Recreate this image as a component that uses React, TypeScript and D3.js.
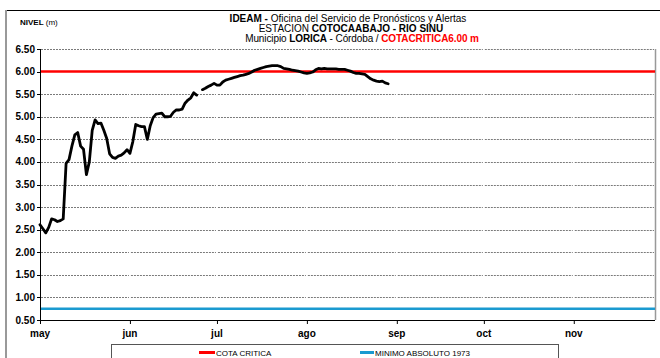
import React, { useEffect, useRef } from "react";
import * as d3 from "d3";

// ---- DATA ----
const startDate = "2011-05-01"; // first observation (daily series)
const nivel: (number | null)[] = [
  2.61, 2.52, 2.43, 2.55, 2.74, 2.72, 2.68, 2.70, 2.74, 3.97,
  4.05, 4.35, 4.60, 4.65, 4.35, 4.28, 3.72, 4.00, 4.70, 4.93,
  4.85, 4.86, 4.70, 4.52, 4.18, 4.10, 4.08, 4.13, 4.15, 4.20,
  4.27, 4.19, 4.45, 4.83, 4.80, 4.78, 4.78, 4.50, 4.80, 4.98,
  5.06, 5.07, 5.08, 5.00, 5.00, 5.01, 5.10, 5.15, 5.15, 5.17,
  5.30, 5.37, 5.42, 5.53, 5.48, null, 5.60, 5.63, 5.67, 5.70,
  5.74, 5.70, 5.70, 5.77, 5.81, 5.83, 5.85, 5.87, 5.89, 5.91,
  5.92, 5.94, 5.96, 5.99, 6.03, 6.05, 6.07, 6.09, 6.11, 6.12,
  6.13, 6.13, 6.13, 6.11, 6.07, 6.06, 6.05, 6.03, 6.02, 6.01,
  5.99, 5.97, 5.96, 5.97, 5.99, 6.04, 6.07, 6.06, 6.07, 6.06,
  6.06, 6.06, 6.06, 6.05, 6.05, 6.05, 6.03, 6.01, 5.98, 5.96,
  5.96, 5.95, 5.94, 5.89, 5.84, 5.81, 5.79, 5.78, 5.79, 5.75,
  5.73,
];
const cotaCritica = 6.0;
const minimoAbsoluto = 0.75;
const monthLabels = ["may", "jun", "jul", "ago", "sep", "oct", "nov"];
const monthStarts = ["2011-05-01", "2011-06-01", "2011-07-01", "2011-08-01", "2011-09-01", "2011-10-01", "2011-11-01"];
const xDomain = ["2011-05-01", "2011-11-29"];
const yTicks = [0.5, 1.0, 1.5, 2.0, 2.5, 3.0, 3.5, 4.0, 4.5, 5.0, 5.5, 6.0, 6.5];
const legendItems = ["COTA CRITICA", "MINIMO ABSOLUTO 1973"];

const W = 660, H = 358;
const left = 40, right = 655, top = 49, bottom = 320;
const FONT = "'Liberation Sans', Arial, sans-serif";
const RED = "#ff0000";
const BLUE = "#1a9ad0";

export default function App() {
  const gridRef = useRef<SVGGElement | null>(null);
  const parse = d3.utcParse("%Y-%m-%d");
  const x = d3.scaleUtc().domain(xDomain.map((d) => parse(d)!)).range([left, right]);
  const y = d3.scaleLinear().domain([0.5, 6.5]).range([bottom, top]);
  const start = parse(startDate)!;
  const pts = nivel.map((v, i) => ({ date: d3.utcDay.offset(start, i), v }));
  const line = d3
    .line<{ date: Date; v: number | null }>()
    .defined((d) => d.v !== null)
    .x((d) => x(d.date))
    .y((d) => y(d.v as number));

  const monthX = monthStarts.map((m) => x(parse(m)!));
  const segBounds = [...monthX, right];

  useEffect(() => {
    if (!gridRef.current) return;
    const g = d3.select(gridRef.current);
    g.selectAll("*").remove();
    const segs: { t: number; x0: number; x1: number }[] = [];
    yTicks
      .filter((t) => t > 0.5 && t !== cotaCritica)
      .forEach((t) => {
        for (let i = 0; i < segBounds.length - 1; i++) {
          segs.push({ t, x0: segBounds[i] + 1, x1: segBounds[i + 1] - 1 });
        }
      });
    g.selectAll("line")
      .data(segs)
      .join("line")
      .attr("x1", (d) => d.x0)
      .attr("x2", (d) => d.x1)
      .attr("y1", (d) => Math.round(y(d.t)) + 0.5)
      .attr("y2", (d) => Math.round(y(d.t)) + 0.5)
      .attr("stroke", "#7a7a7a")
      .attr("stroke-width", 1)
      .attr("stroke-dasharray", "2,1");
  }, []);

  return (
    <svg width={W} height={H} style={{ position: "absolute", left: 0, top: 0, background: "#fff" }} fontFamily={FONT}>
      {/* outer frame */}
      <line x1={6} x2={W} y1={10.5} y2={10.5} stroke="#000" strokeWidth={1} />
      <line x1={6} x2={6} y1={10} y2={H} stroke="#999" strokeWidth={2} />

      {/* titles */}
      <text x={348} y={22} textAnchor="middle" fontSize={10}>
        <tspan fontWeight="bold">IDEAM - </tspan>Oficina del Servicio de Pronósticos y Alertas
      </text>
      <text x={351} y={32} textAnchor="middle" fontSize={10}>
        ESTACION <tspan fontWeight="bold">COTOCAABAJO - RIO SINU</tspan>
      </text>
      <text x={362} y={42} textAnchor="middle" fontSize={10} letterSpacing={-0.1}>
        Municipio <tspan fontWeight="bold">LORICA</tspan> - Córdoba /{"  "}
        <tspan fontWeight="bold" fill={RED}>COTACRITICA6.00 m</tspan>
      </text>
      <text x={20} y={25} fontSize={8}>
        <tspan fontWeight="bold">NIVEL</tspan> (m)
      </text>

      {/* gridlines (drawn by d3), broken at month boundaries */}
      <g ref={gridRef} />

      {/* plot right border */}
      <line x1={right + 0.5} x2={right + 0.5} y1={top} y2={bottom} stroke="#999" strokeWidth={1.5} />

      {/* reference lines */}
      <line x1={left} x2={right} y1={y(cotaCritica)} y2={y(cotaCritica)} stroke={RED} strokeWidth={2.5} />
      <line x1={left} x2={right} y1={y(minimoAbsoluto)} y2={y(minimoAbsoluto)} stroke={BLUE} strokeWidth={2.5} />

      {/* series */}
      <path d={line(pts) || ""} fill="none" stroke="#000" strokeWidth={2.8} strokeLinejoin="round" strokeLinecap="round" />

      {/* axes */}
      <line x1={left + 0.5} x2={left + 0.5} y1={top} y2={bottom + 0.5} stroke="#000" strokeWidth={1} />
      <line x1={left} x2={right} y1={bottom + 0.5} y2={bottom + 0.5} stroke="#000" strokeWidth={1} />
      {yTicks.map((t) => (
        <g key={t}>
          <line x1={left - 3} x2={left} y1={Math.round(y(t)) + 0.5} y2={Math.round(y(t)) + 0.5} stroke="#000" />
          <text x={35} y={y(t) + 3.5} textAnchor="end" fontSize={10} fontWeight="bold">
            {t.toFixed(2)}
          </text>
        </g>
      ))}
      {monthX.map((mx, i) => (
        <g key={monthLabels[i]}>
          <line x1={mx + 0.5} x2={mx + 0.5} y1={bottom} y2={bottom + 4} stroke="#000" />
          <text x={mx} y={337} textAnchor="middle" fontSize={10} fontWeight="bold">
            {monthLabels[i]}
          </text>
        </g>
      ))}

      {/* legend */}
      <rect x={111.5} y={344.5} width={447} height={20} fill="#fff" stroke="#555" strokeWidth={1} />
      <line x1={199} x2={215} y1={352.5} y2={352.5} stroke={RED} strokeWidth={3} />
      <text x={216} y={355.5} fontSize={8}>{legendItems[0]}</text>
      <line x1={360} x2={374} y1={352.5} y2={352.5} stroke={BLUE} strokeWidth={3} />
      <text x={375} y={355.5} fontSize={8}>{legendItems[1]}</text>
    </svg>
  );
}
